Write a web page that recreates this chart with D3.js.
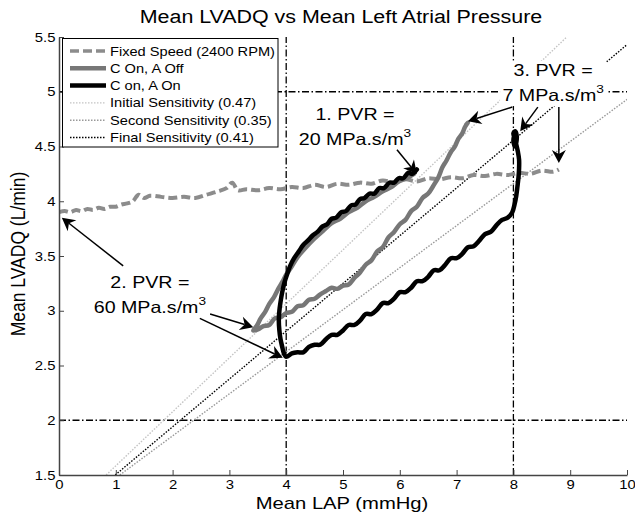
<!DOCTYPE html>
<html><head><meta charset="utf-8">
<script src="https://cdn.jsdelivr.net/npm/d3@7"></script>
<style>body{margin:0;background:#fff}svg{display:block}</style>
</head><body>
<svg id="c" width="635" height="516"></svg>
<script>
// ---------------- DATA ----------------
const xTicks = [0,1,2,3,4,5,6,7,8,9,10];
const yTicks = [1.5,2,2.5,3,3.5,4,4.5,5,5.5];
const yTickLabels = ["1.5","2","2.5","3","3.5","4","4.5","5","5.5"];

const fixedSpeed = [[0,3.9],[0.1,3.91],[0.2,3.9],[0.3,3.92],[0.4,3.91],[0.5,3.93],[0.6,3.92],[0.7,3.94],[0.8,3.93],[0.9,3.95],[1.0,3.95],[1.1,3.97],[1.2,3.98],[1.3,4.0],[1.4,4.06],[1.5,4.03],[1.6,4.05],[1.8,4.04],[2.0,4.03],[2.2,4.04],[2.4,4.03],[2.6,4.06],[2.8,4.09],[2.95,4.12],[3.05,4.17],[3.15,4.1],[3.3,4.11],[3.5,4.1],[3.7,4.12],[3.9,4.11],[4.1,4.13],[4.3,4.12],[4.5,4.15],[4.7,4.13],[4.9,4.16],[5.1,4.15],[5.3,4.17],[5.5,4.16],[5.7,4.19],[5.9,4.17],[6.1,4.2],[6.3,4.18],[6.5,4.21],[6.7,4.2],[6.9,4.22],[7.1,4.21],[7.3,4.24],[7.5,4.23],[7.7,4.25],[7.9,4.24],[8.1,4.26],[8.3,4.25],[8.5,4.28],[8.7,4.27],[8.8,4.29]];

const cOnAOff = [[6.25,4.25],[6.12,4.21],[5.98,4.18],[5.85,4.13],[5.7,4.09],[5.55,4.04],[5.4,4.0],[5.25,3.94],[5.1,3.9],[4.95,3.84],[4.8,3.8],[4.65,3.73],[4.5,3.66],[4.35,3.58],[4.2,3.49],[4.08,3.39],[4.0,3.33],[3.94,3.27],[3.86,3.2],[3.78,3.12],[3.7,3.06],[3.63,2.99],[3.55,2.93],[3.48,2.86],[3.42,2.82],
  [3.5,2.83],[3.6,2.86],[3.7,2.87],[3.8,2.93],[3.9,2.94],[4.0,2.98],[4.1,2.99],[4.2,3.04],[4.3,3.05],[4.4,3.1],[4.5,3.11],[4.6,3.15],[4.7,3.18],[4.8,3.21],[4.9,3.2],[5.0,3.23],[5.1,3.24],[5.2,3.3],[5.3,3.35],[5.4,3.42],[5.5,3.46],[5.6,3.54],[5.7,3.58],[5.8,3.67],[5.9,3.72],[6.0,3.79],[6.1,3.83],[6.2,3.91],[6.3,3.95],[6.4,4.03],[6.5,4.07],[6.6,4.15],[6.68,4.22],[6.75,4.31],[6.82,4.37],[6.9,4.45],[6.97,4.5],[7.03,4.57],[7.1,4.62],[7.15,4.68],[7.2,4.72],[7.17,4.7]];

const cOnAOn = [[6.3,4.29],[6.22,4.25],[6.15,4.26],[6.06,4.21],[5.98,4.21],[5.9,4.17],[5.82,4.17],[5.72,4.12],[5.64,4.12],[5.55,4.07],[5.47,4.07],[5.38,4.03],[5.3,4.02],[5.22,3.97],[5.14,3.96],[5.05,3.91],[4.97,3.9],[4.88,3.85],[4.8,3.84],[4.72,3.79],[4.64,3.77],[4.55,3.72],[4.47,3.69],[4.38,3.64],[4.3,3.6],[4.22,3.54],[4.14,3.48],[4.07,3.41],[4.02,3.34],[3.97,3.26],[3.93,3.17],[3.9,3.08],[3.88,3.0],[3.87,2.91],[3.88,2.82],[3.9,2.74],[3.93,2.67],[3.96,2.61],[4.0,2.58],
  [4.1,2.61],[4.2,2.62],[4.3,2.62],[4.4,2.67],[4.5,2.69],[4.6,2.69],[4.7,2.74],[4.8,2.78],[4.9,2.78],[5.0,2.82],[5.1,2.87],[5.2,2.87],[5.3,2.91],[5.4,2.97],[5.5,2.97],[5.6,3.01],[5.7,3.07],[5.8,3.07],[5.9,3.11],[6.0,3.17],[6.1,3.17],[6.2,3.21],[6.3,3.27],[6.4,3.27],[6.5,3.31],[6.6,3.37],[6.7,3.37],[6.8,3.42],[6.9,3.48],[7.0,3.48],[7.1,3.52],[7.2,3.58],[7.3,3.59],[7.4,3.64],[7.5,3.7],[7.6,3.72],[7.7,3.78],[7.8,3.83],[7.9,3.85],[7.98,3.9],[8.02,3.97],[8.05,4.05],[8.07,4.13],[8.09,4.22],[8.1,4.3],[8.1,4.38],[8.08,4.45],[8.05,4.52],[8.02,4.58],[8.0,4.62],[8.03,4.64],[8.06,4.59],[8.03,4.5],[8.0,4.55],[8.02,4.61]];

// sensitivity lines (endpoints)
const initialSens = [[0.83,1.5],[8.94,5.5]];
const secondSens  = [[1.07,1.5],[10.0,4.93]];
const finalSens   = [[0.99,1.5],[10.0,5.43]];

// reference dash-dot lines
const vRefs = [4, 8];
const hRefs = [2, 5];

const legendLabels = ["Fixed Speed (2400 RPM)","C On, A Off","C on, A On","Initial Sensitivity (0.47)","Second Sensitivity (0.35)","Final Sensitivity (0.41)"];

// annotations: text anchor (data coords) and arrows [from, to]
const annotations = [
  {lines:["1. PVR =","20 MPa.s/m"], at:[5.21,4.745], arrows:[[[5.95,4.47],[6.3,4.25]]]},
  {lines:["2. PVR =","60 MPa.s/m"], at:[1.6,3.21], arrows:[[[1.13,3.41],[0.05,3.85]],[[2.66,2.97],[3.42,2.85]],[[2.48,2.93],[3.94,2.57]]]},
  {lines:["3. PVR =","7 MPa.s/m"], at:[8.7,5.14], arrows:[[[7.98,4.86],[7.2,4.73]],[[8.43,4.86],[8.12,4.64]],[[8.8,4.86],[8.8,4.35]]]}
];

// ---------------- DRAW ----------------
const SX = 1.19; // horizontal stretch of the reference's text
const FONT = "'Liberation Sans', Arial, sans-serif";
const svg = d3.select("#c");
const x = d3.scaleLinear().domain([0,10]).range([59,627]);
const y = d3.scaleLinear().domain([1.5,5.5]).range([475,37]);

svg.append("defs").append("clipPath").attr("id","clip")
  .append("rect").attr("x",59).attr("y",37).attr("width",568).attr("height",438);

const plot = svg.append("g").attr("clip-path","url(#clip)");
const line = d3.line().x(d=>x(d[0])).y(d=>y(d[1]));
const curve = d3.line().x(d=>x(d[0])).y(d=>y(d[1])).curve(d3.curveCatmullRom.alpha(0.5));

const DASHDOT = "7,2.5,1.5,2.5";
vRefs.forEach(v=>plot.append("line").attr("x1",x(v)).attr("x2",x(v)).attr("y1",y(1.5)).attr("y2",y(5.5))
  .attr("stroke","#000").attr("stroke-width",1.3).attr("stroke-dasharray",DASHDOT));
hRefs.forEach(h=>plot.append("line").attr("x1",x(0)).attr("x2",x(10)).attr("y1",y(h)).attr("y2",y(h))
  .attr("stroke","#000").attr("stroke-width",1.3).attr("stroke-dasharray",DASHDOT));

const sensStyles = [
  {d:initialSens, c:"#c4c4c4"},
  {d:secondSens, c:"#999"},
  {d:finalSens, c:"#000"}
];
sensStyles.forEach(s=>plot.append("path").attr("d",line(s.d)).attr("fill","none")
  .attr("stroke",s.c).attr("stroke-width",1.4).attr("stroke-dasharray","1.5,1.5"));

plot.append("path").attr("d",curve(fixedSpeed)).attr("fill","none").attr("stroke","#8c8c8c")
  .attr("stroke-width",4).attr("stroke-dasharray","9,4");
plot.append("path").attr("d",curve(cOnAOff)).attr("fill","none").attr("stroke","#777")
  .attr("stroke-width",4.5).attr("stroke-linejoin","round").attr("stroke-linecap","round");
plot.append("path").attr("d",curve(cOnAOn)).attr("fill","none").attr("stroke","#000")
  .attr("stroke-width",4.5).attr("stroke-linejoin","round").attr("stroke-linecap","round");

// axes
function styleAxis(g){
  g.select(".domain").attr("stroke","#444").attr("stroke-width",1.5);
  g.selectAll(".tick line").attr("stroke","#444");
  g.selectAll(".tick text").attr("font-family",FONT).attr("font-size",12.5).attr("fill","#000");
}
const xAxis = svg.append("g").attr("transform","translate(0,475)")
  .call(d3.axisBottom(x).tickValues(xTicks).tickFormat(d3.format("d")).tickSizeInner(-5).tickSizeOuter(0).tickPadding(5));
styleAxis(xAxis);
xAxis.selectAll(".tick text").attr("transform",`scale(${SX},1)`);
const yAxis = svg.append("g").attr("transform","translate(59,0)")
  .call(d3.axisLeft(y).tickValues(yTicks).tickFormat((d,i)=>yTickLabels[i]).tickSizeInner(-5).tickSizeOuter(0).tickPadding(3));
styleAxis(yAxis);
yAxis.selectAll(".tick text").attr("transform",`scale(${SX},1)`);

function label(g, px, py, str, size, anchor, rot){
  const t = g.append("text").attr("transform",`translate(${px},${py}) scale(${SX},1)` + (rot?` rotate(${rot})`:""))
    .attr("font-family",FONT).attr("font-size",size).attr("text-anchor",anchor||"start").attr("fill","#000").text(str);
  return t;
}
label(svg, 341, 23, "Mean LVADQ vs Mean Left Atrial Pressure", 18, "middle");
label(svg, 342, 509, "Mean LAP (mmHg)", 17, "middle");
label(svg, 25, 254, "Mean LVADQ (L/min)", 17.5, "middle", -90);

// annotations
const ann = svg.append("g");
function arrow(g, from, to){
  const x1=x(from[0]), y1=y(from[1]), x2=x(to[0]), y2=y(to[1]);
  const ang=Math.atan2(y2-y1,x2-x1), L=13, W=7, N=9;
  const bx=x2-L*Math.cos(ang), by=y2-L*Math.sin(ang);
  const nx=x2-N*Math.cos(ang), ny=y2-N*Math.sin(ang);
  g.append("line").attr("x1",x1).attr("y1",y1).attr("x2",nx).attr("y2",ny).attr("stroke","#000").attr("stroke-width",1.5);
  const px=-Math.sin(ang), py=Math.cos(ang);
  g.append("path").attr("d",`M${x2},${y2}L${bx+px*W},${by+py*W}L${nx},${ny}L${bx-px*W},${by-py*W}Z`).attr("fill","#000");
}
annotations.forEach(a=>{
  const cx=x(a.at[0]), cy=y(a.at[1]);
  const g = ann.append("g").attr("transform",`translate(${cx},${cy}) scale(${SX},1)`);
  const bg = g.append("rect").attr("fill","#fff");
  const t = g.append("text").attr("font-family",FONT).attr("font-size",16.5).attr("text-anchor","middle").attr("fill","#000");
  t.append("tspan").attr("x",0).attr("y",0).text(a.lines[0]);
  t.append("tspan").attr("x",0).attr("y",25).text(a.lines[1]);
  t.append("tspan").attr("font-size",11.5).attr("dy",-8).text("3");
  const bb = t.node().getBBox();
  bg.attr("x",bb.x-2).attr("y",bb.y-1).attr("width",bb.width+4).attr("height",bb.height+2);
  a.arrows.forEach(ar=>arrow(ann, ar[0], ar[1]));
});

// legend
const lg = svg.append("g");
lg.append("rect").attr("x",62.5).attr("y",38.5).attr("width",215.5).attr("height",108.5)
  .attr("fill","#fff").attr("stroke","#000").attr("stroke-width",1);
const legStyles = [
  {c:"#8c8c8c", w:3.5, da:"9,4"},
  {c:"#777", w:4.5, da:null},
  {c:"#000", w:4.5, da:null},
  {c:"#c4c4c4", w:1.4, da:"1.5,1.5"},
  {c:"#999", w:1.4, da:"1.5,1.5"},
  {c:"#000", w:1.4, da:"1.5,1.5"}
];
legendLabels.forEach((lab,i)=>{
  const yy = 51 + i*17.3;
  const s = legStyles[i];
  const l = lg.append("line").attr("x1",70).attr("x2",106).attr("y1",yy).attr("y2",yy)
    .attr("stroke",s.c).attr("stroke-width",s.w);
  if(s.da) l.attr("stroke-dasharray",s.da);
  label(lg, 110, yy+4.5, lab, 12.3, "start");
});
</script>
</body></html>
